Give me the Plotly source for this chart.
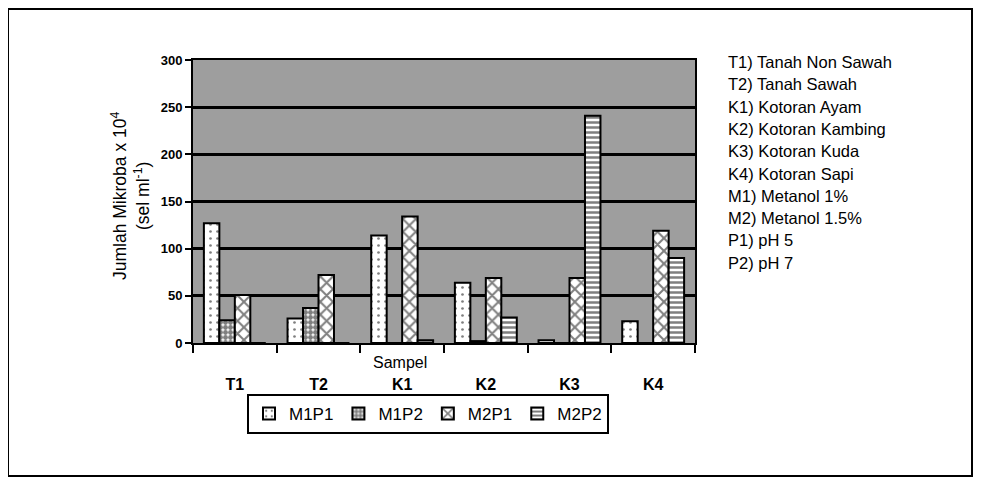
import plotly.graph_objects as go

categories = ["T1", "T2", "K1", "K2", "K3", "K4"]
m1p1 = [127, 26, 114, 64, 3, 23]
m1p2 = [24, 37, 0, 2, 0, 0]
m2p1 = [51, 72, 134, 69, 69, 119]
m2p2 = [0, 0, 3, 27, 241, 90]
series_names = ["M1P1", "M1P2", "M2P1", "M2P2"]
y_ticks = [0, 50, 100, 150, 200, 250, 300]
notes = [
    "T1) Tanah Non Sawah",
    "T2) Tanah Sawah",
    "K1) Kotoran Ayam",
    "K2) Kotoran Kambing",
    "K3) Kotoran Kuda",
    "K4) Kotoran Sapi",
    "M1) Metanol 1%",
    "M2) Metanol 1.5%",
    "P1) pH 5",
    "P2) pH 7",
]

# page body has an 8px margin: work in page pixels, convert to figure pixels
OFF = 8
W, H = 965, 470
PL, PR, PT, PB = 193, 695, 60, 343  # plot area in page pixels
L, T = PL - OFF, PT - OFF
R = W - (PR - OFF)
B = H - (PB - OFF)
pw, ph = PR - PL, PB - PT

def px_x(x):
    return (x - PL) / pw

def px_y(y):
    return (PB - y) / ph

patterns = [
    dict(shape=".", fgcolor="black", bgcolor="white", size=7, solidity=0.12),
    dict(shape=".", fgcolor="black", bgcolor="white", size=5, solidity=0.75),
    dict(shape="x", fgcolor="black", bgcolor="white", size=9, solidity=0.4),
    dict(shape="-", fgcolor="black", bgcolor="white", size=5, solidity=0.5),
]

fig = go.Figure()
for name, vals, pat in zip(series_names, [m1p1, m1p2, m2p1, m2p2], patterns):
    fig.add_trace(go.Bar(
        x=categories, y=vals, name=name,
        marker=dict(color="white", line=dict(color="black", width=2), pattern=pat),
    ))

font = "Liberation Sans, Arial, sans-serif"
fig.update_layout(
    width=W, height=H,
    margin=dict(l=L, r=R, t=T, b=B),
    paper_bgcolor="white",
    plot_bgcolor="#9e9e9e",
    barmode="group",
    bargap=0.26,
    bargroupgap=0,
    font=dict(family=font, color="black", size=13),
    showlegend=True,
    legend=dict(
        orientation="h", x=px_x(428), y=px_y(394), xanchor="center", yanchor="top",
        bordercolor="black", borderwidth=2, bgcolor="white",
        font=dict(size=17, family=font), itemwidth=30, tracegroupgap=0,
    ),
)
fig.update_yaxes(
    range=[0, 300], tickvals=y_ticks, ticks="outside", ticklen=6, tickwidth=2, tickcolor="black",
    showgrid=True, gridcolor="black", gridwidth=2.5,
    showline=True, linecolor="black", linewidth=2, mirror=True, zeroline=False,
    tickfont=dict(size=13, family=font, weight="bold"),
)
fig.update_xaxes(
    type="category", tickson="boundaries", ticks="outside", ticklen=8, tickwidth=2, tickcolor="black",
    showline=True, linecolor="black", linewidth=2, mirror=True,
    tickfont=dict(size=16, family=font, weight="bold"), ticklabelstandoff=26,
)

fig.add_annotation(
    text="Sampel", x=px_x(400), y=px_y(362), xref="paper", yref="paper",
    showarrow=False, font=dict(size=16, family=font), xanchor="center", yanchor="middle",
)
fig.add_annotation(
    text="Jumlah Mikroba x 10<sup>4</sup><br>(sel ml<sup>-1</sup>)",
    x=px_x(130), y=px_y(196), xref="paper", yref="paper", textangle=-90,
    showarrow=False, font=dict(size=17.5, family=font), xanchor="center", yanchor="middle",
)
for i, line in enumerate(notes):
    fig.add_annotation(
        text=line, x=px_x(726), y=px_y(62 + i * 22.3), xref="paper", yref="paper",
        showarrow=False, font=dict(size=16.5, family=font), xanchor="left", yanchor="middle",
    )

fig.add_shape(
    type="rect", xref="paper", yref="paper",
    x0=px_x(8), x1=px_x(972), y0=px_y(476), y1=px_y(9),
    line=dict(color="black", width=2), fillcolor="rgba(0,0,0,0)", layer="below",
)

fig.write_html("out.html")
